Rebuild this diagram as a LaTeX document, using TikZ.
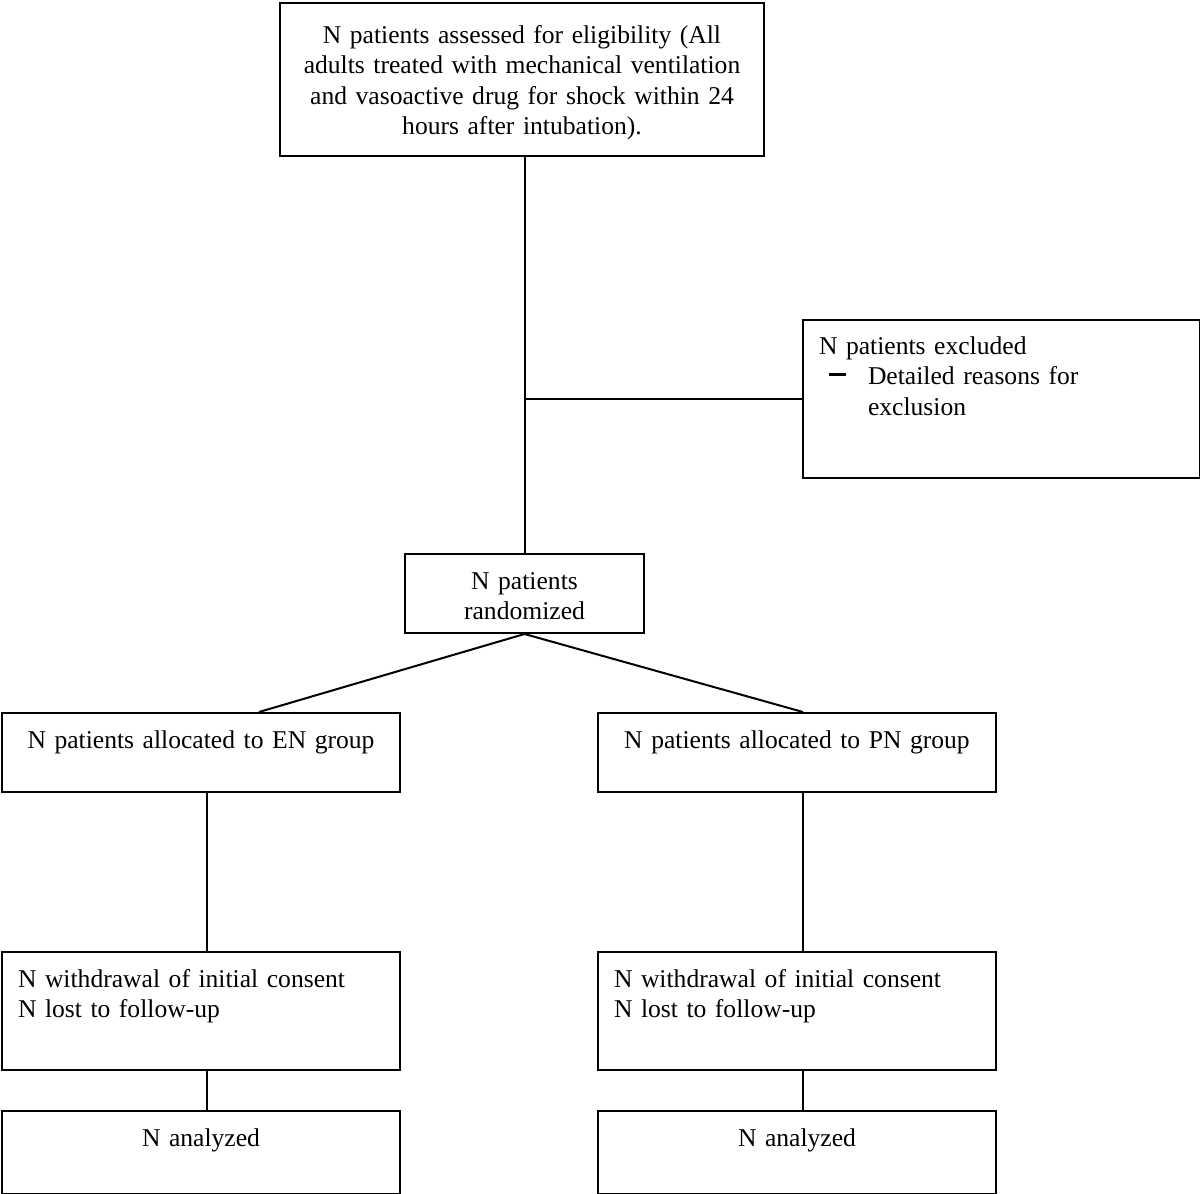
\documentclass[tikz,border=0pt]{standalone}
\usepackage{fontspec}
\setmainfont{Liberation Serif}
\usetikzlibrary{positioning,calc}

\tikzset{
    box/.style={draw, line width=2pt, anchor=north west, inner sep=0pt, inner xsep=16pt,
        text height=35pt, font=\fontsize{25.6pt}{30.5pt}\selectfont},
    link/.style={line width=2pt},
}

\begin{document}
\begin{tikzpicture}[x=1pt,y=-1pt]
    \useasboundingbox (0,0) rectangle (1200,1194);

    \node[box, text width=452pt, text height=40pt, text depth=113pt, align=center] (elig) at (279,2)
        {N patients assessed for eligibility (All\\adults treated with mechanical ventilation\\and vasoactive drug for shock within 24\\hours after intubation).};
    \node[box, text width=365pt, text height=34pt, text depth=124pt, align=left] (excl) at (802,319)
        {N patients excluded\\\hspace*{10pt}\makebox[39pt][l]{\rule[8.5pt]{17pt}{2.8pt}}Detailed reasons for\\\hspace*{49pt}exclusion};
    \node[box, text width=207pt, text depth=44pt, align=center] (rand) at (404,553) {N patients\\randomized};

    \draw[link] (rand.north |- elig.south) -- (rand.north);
    \draw[link] (excl.west -| rand.north) -- (excl.west);

    \foreach \g/\x/\arm in {en/1/EN, pn/597/PN} {
        \node[box, text width=366pt, text depth=44pt, align=center] (\g-alloc) at (\x,712) {N patients allocated to \arm{} group};
        \node[box, text width=366pt, text depth=83pt, align=left] (\g-lost) at (\x,951) {N withdrawal of initial consent\\N lost to follow-up};
        \node[box, text width=366pt, text depth=48pt, align=center] (\g-anal) at (\x,1110) {N analyzed};
        \draw[link] ([xshift=6pt]\g-alloc.south) -- ([xshift=6pt]\g-lost.north);
        \draw[link] ([xshift=6pt]\g-lost.south) -- ([xshift=6pt]\g-anal.north);
    }

    \draw[link] (rand.south) -- ([xshift=58pt]en-alloc.north);
    \draw[link] (rand.south) -- ([xshift=6pt]pn-alloc.north);
\end{tikzpicture}
\end{document}
